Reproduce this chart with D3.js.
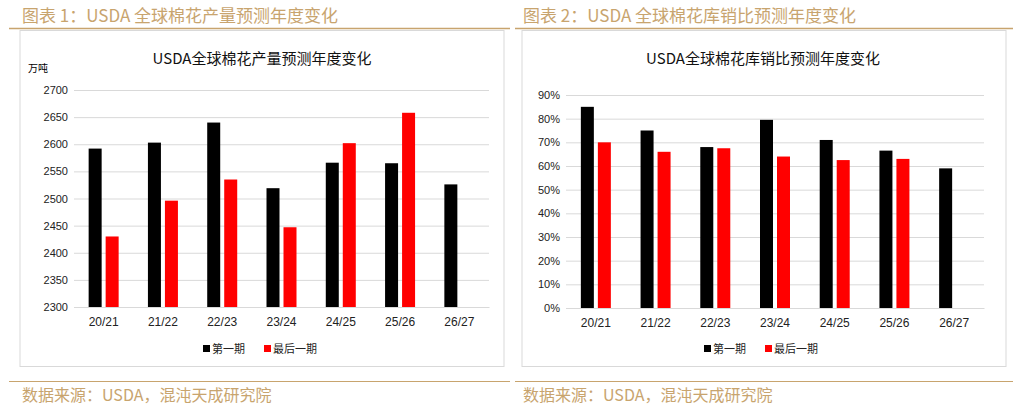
<!DOCTYPE html>
<html><head><meta charset="utf-8">
<script src="https://cdn.jsdelivr.net/npm/d3@7"></script>
<style>body{margin:0;background:#fff}svg{display:block}</style>
</head><body><svg width="1026" height="408"></svg>
<script>
const categories = ["20/21","21/22","22/23","23/24","24/25","25/26","26/27"];
const prodFirst = [2592, 2603, 2640, 2519, 2566, 2565, 2526];
const prodLast = [2430, 2496, 2535, 2447, 2602, 2658, null];
const ratioFirst = [0.85, 0.75, 0.68, 0.795, 0.71, 0.665, 0.59];
const ratioLast = [0.70, 0.66, 0.675, 0.64, 0.625, 0.63, null];
const prodTicks = [2300,2350,2400,2450,2500,2550,2600,2650,2700];
const ratioTicks = [0,0.1,0.2,0.3,0.4,0.5,0.6,0.7,0.8,0.9];

const svg = d3.select("svg");
const gold = "#c8a46e", font = "'Noto Sans CJK SC', sans-serif";

function panel(o) {
    var g = svg.append("g").attr("transform", "translate(" + o.x0 + ",0)");
    g.append("text").attr("x", o.hx).attr("y", 22).attr("fill", gold)
        .attr("font-family", font).attr("font-size", 17).text(o.heading);
    g.append("line").attr("x1", o.rx1).attr("x2", o.rx2).attr("y1", 28.5).attr("y2", 28.5)
        .attr("stroke", gold).attr("stroke-width", 1.5);
    g.append("rect").attr("x", o.bx).attr("y", 30.5).attr("width", o.bw).attr("height", 336)
        .attr("fill", "#fff").attr("stroke", "#d9d9d9");
    g.append("line").attr("x1", o.rx1).attr("x2", o.rx2).attr("y1", 381.5).attr("y2", 381.5)
        .attr("stroke", gold).attr("stroke-width", 1);
    g.append("text").attr("x", o.hx).attr("y", 401).attr("fill", gold)
        .attr("font-family", font).attr("font-size", 16).text("数据来源：USDA，混沌天成研究院");
    g.append("text").attr("x", o.tx).attr("y", 64).attr("text-anchor", "middle")
        .attr("font-family", font).attr("font-size", 15).attr("fill", "#111").text(o.title);
    if (o.unit) g.append("text").attr("x", 28).attr("y", 72).attr("font-family", font)
        .attr("font-size", 10).text(o.unit);

    var x = d3.scaleBand().domain(categories).range([o.px0, o.px1]);
    var y = d3.scaleLinear().domain(o.domain).range([o.py1, o.py0]);

    var yAxis = g.append("g").attr("transform", "translate(" + o.px0 + ",0)")
        .call(d3.axisLeft(y).tickValues(o.ticks).tickSize(o.px0 - o.px1).tickFormat(o.fmt));
    yAxis.select(".domain").remove();
    yAxis.selectAll("line").attr("stroke", "#d9d9d9").attr("stroke-width", 1);
    yAxis.selectAll("text").attr("x", -6).attr("font-family", "Liberation Sans, sans-serif")
        .attr("font-size", 11).attr("fill", "#222");

    var xAxis = g.append("g").attr("transform", "translate(0," + o.py1 + ")")
        .call(d3.axisBottom(x).tickSize(0).tickPadding(10));
    xAxis.select(".domain").attr("stroke", "#d9d9d9");
    xAxis.selectAll("text").attr("font-family", "Liberation Sans, sans-serif")
        .attr("font-size", 12).attr("fill", "#222");

    var bw = 13;
    [[o.first, "#000", -15], [o.last, "#ff0000", 2]].forEach(function (s) {
        g.append("g").selectAll("rect").data(categories.map((c, i) => ({c: c, v: s[0][i]})).filter(d => d.v != null))
            .join("rect")
            .attr("x", d => x(d.c) + x.bandwidth() / 2 + s[2])
            .attr("width", bw)
            .attr("y", d => y(d.v))
            .attr("height", d => o.py1 - y(d.v))
            .attr("fill", s[1]);
    });

    var lg = g.append("g").attr("transform", "translate(" + o.lx + ",349)");
    [["第一期", "#000", 0], ["最后一期", "#ff0000", 61]].forEach(function (l) {
        lg.append("rect").attr("x", l[2]).attr("y", -4).attr("width", 7).attr("height", 7).attr("fill", l[1]);
        lg.append("text").attr("x", l[2] + 9).attr("y", 4).attr("font-family", font)
            .attr("font-size", 11).attr("fill", "#222").text(l[0]);
    });
}

panel({x0: 0, hx: 22, rx1: 9, rx2: 510, bx: 20, bw: 484, tx: 262,
    heading: "图表 1：USDA 全球棉花产量预测年度变化", title: "USDA全球棉花产量预测年度变化", unit: "万吨",
    px0: 74, px1: 489, py0: 90, py1: 307, domain: [2300, 2700], ticks: prodTicks, fmt: d3.format("d"),
    first: prodFirst, last: prodLast, lx: 203});
panel({x0: 515, hx: 8, rx1: 0, rx2: 498, bx: 7, bw: 484, tx: 248,
    heading: "图表 2：USDA 全球棉花库销比预测年度变化", title: "USDA全球棉花库销比预测年度变化", unit: null,
    px0: 51, px1: 469, py0: 95, py1: 308, domain: [0, 0.9], ticks: ratioTicks, fmt: d3.format(".0%"),
    first: ratioFirst, last: ratioLast, lx: 189});
</script></body></html>
